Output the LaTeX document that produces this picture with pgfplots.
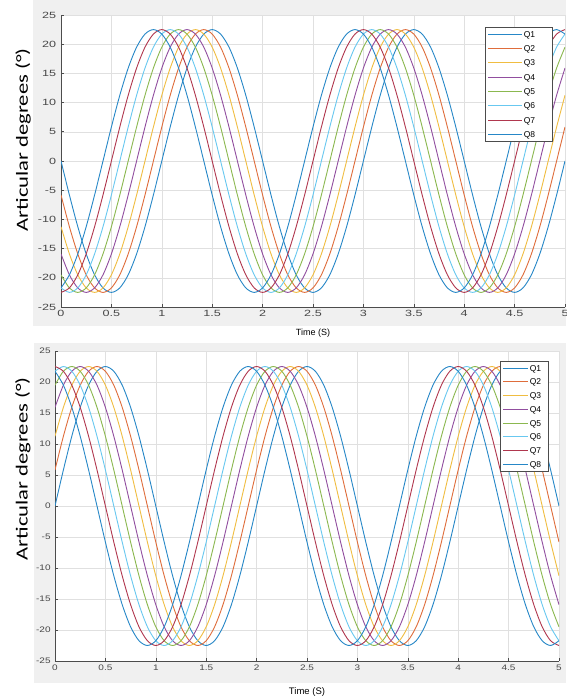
\documentclass[border=0pt]{standalone}
\usepackage{pgfplots}
\pgfplotsset{compat=1.18}
\usepackage{pgfplotstable}
\usepackage{fontspec}
\setmainfont{Liberation Sans}
\newfontfamily\labelfont{Carlito}

\definecolor{c1}{rgb}{0.00,0.447,0.741}
\definecolor{c2}{rgb}{0.85,0.325,0.098}
\definecolor{c3}{rgb}{0.929,0.694,0.125}
\definecolor{c4}{rgb}{0.494,0.184,0.556}
\definecolor{c5}{rgb}{0.466,0.674,0.188}
\definecolor{c6}{rgb}{0.301,0.745,0.933}
\definecolor{c7}{rgb}{0.635,0.078,0.184}

% top chart: joint angles (deg) vs time (s)
\pgfplotstableread{
t q1 q2 q3 q4 q5 q6 q7 q8
0 0 -5.82 -11.25 -15.91 -19.49 -21.73 -22.5 -21.73
0.0833 -5.82 -11.25 -15.91 -19.49 -21.73 -22.5 -21.73 -19.49
0.1667 -11.25 -15.91 -19.49 -21.73 -22.5 -21.73 -19.49 -15.91
0.25 -15.91 -19.49 -21.73 -22.5 -21.73 -19.49 -15.91 -11.25
0.3333 -19.49 -21.73 -22.5 -21.73 -19.49 -15.91 -11.25 -5.82
0.4167 -21.73 -22.5 -21.73 -19.49 -15.91 -11.25 -5.82 0
0.5 -22.5 -21.73 -19.49 -15.91 -11.25 -5.82 0 5.82
0.5833 -21.73 -19.49 -15.91 -11.25 -5.82 0 5.82 11.25
0.6667 -19.49 -15.91 -11.25 -5.82 0 5.82 11.25 15.91
0.75 -15.91 -11.25 -5.82 0 5.82 11.25 15.91 19.49
0.8333 -11.25 -5.82 0 5.82 11.25 15.91 19.49 21.73
0.9167 -5.82 0 5.82 11.25 15.91 19.49 21.73 22.5
1 0 5.82 11.25 15.91 19.49 21.73 22.5 21.73
1.0833 5.82 11.25 15.91 19.49 21.73 22.5 21.73 19.49
1.1667 11.25 15.91 19.49 21.73 22.5 21.73 19.49 15.91
1.25 15.91 19.49 21.73 22.5 21.73 19.49 15.91 11.25
1.3333 19.49 21.73 22.5 21.73 19.49 15.91 11.25 5.82
1.4167 21.73 22.5 21.73 19.49 15.91 11.25 5.82 0
1.5 22.5 21.73 19.49 15.91 11.25 5.82 0 -5.82
1.5833 21.73 19.49 15.91 11.25 5.82 0 -5.82 -11.25
1.6667 19.49 15.91 11.25 5.82 0 -5.82 -11.25 -15.91
1.75 15.91 11.25 5.82 0 -5.82 -11.25 -15.91 -19.49
1.8333 11.25 5.82 0 -5.82 -11.25 -15.91 -19.49 -21.73
1.9167 5.82 0 -5.82 -11.25 -15.91 -19.49 -21.73 -22.5
2 0 -5.82 -11.25 -15.91 -19.49 -21.73 -22.5 -21.73
2.0833 -5.82 -11.25 -15.91 -19.49 -21.73 -22.5 -21.73 -19.49
2.1667 -11.25 -15.91 -19.49 -21.73 -22.5 -21.73 -19.49 -15.91
2.25 -15.91 -19.49 -21.73 -22.5 -21.73 -19.49 -15.91 -11.25
2.3333 -19.49 -21.73 -22.5 -21.73 -19.49 -15.91 -11.25 -5.82
2.4167 -21.73 -22.5 -21.73 -19.49 -15.91 -11.25 -5.82 0
2.5 -22.5 -21.73 -19.49 -15.91 -11.25 -5.82 0 5.82
2.5833 -21.73 -19.49 -15.91 -11.25 -5.82 0 5.82 11.25
2.6667 -19.49 -15.91 -11.25 -5.82 0 5.82 11.25 15.91
2.75 -15.91 -11.25 -5.82 0 5.82 11.25 15.91 19.49
2.8333 -11.25 -5.82 0 5.82 11.25 15.91 19.49 21.73
2.9167 -5.82 0 5.82 11.25 15.91 19.49 21.73 22.5
3 0 5.82 11.25 15.91 19.49 21.73 22.5 21.73
3.0833 5.82 11.25 15.91 19.49 21.73 22.5 21.73 19.49
3.1667 11.25 15.91 19.49 21.73 22.5 21.73 19.49 15.91
3.25 15.91 19.49 21.73 22.5 21.73 19.49 15.91 11.25
3.3333 19.49 21.73 22.5 21.73 19.49 15.91 11.25 5.82
3.4167 21.73 22.5 21.73 19.49 15.91 11.25 5.82 0
3.5 22.5 21.73 19.49 15.91 11.25 5.82 0 -5.82
3.5833 21.73 19.49 15.91 11.25 5.82 0 -5.82 -11.25
3.6667 19.49 15.91 11.25 5.82 0 -5.82 -11.25 -15.91
3.75 15.91 11.25 5.82 0 -5.82 -11.25 -15.91 -19.49
3.8333 11.25 5.82 0 -5.82 -11.25 -15.91 -19.49 -21.73
3.9167 5.82 0 -5.82 -11.25 -15.91 -19.49 -21.73 -22.5
4 0 -5.82 -11.25 -15.91 -19.49 -21.73 -22.5 -21.73
4.0833 -5.82 -11.25 -15.91 -19.49 -21.73 -22.5 -21.73 -19.49
4.1667 -11.25 -15.91 -19.49 -21.73 -22.5 -21.73 -19.49 -15.91
4.25 -15.91 -19.49 -21.73 -22.5 -21.73 -19.49 -15.91 -11.25
4.3333 -19.49 -21.73 -22.5 -21.73 -19.49 -15.91 -11.25 -5.82
4.4167 -21.73 -22.5 -21.73 -19.49 -15.91 -11.25 -5.82 0
4.5 -22.5 -21.73 -19.49 -15.91 -11.25 -5.82 0 5.82
4.5833 -21.73 -19.49 -15.91 -11.25 -5.82 0 5.82 11.25
4.6667 -19.49 -15.91 -11.25 -5.82 0 5.82 11.25 15.91
4.75 -15.91 -11.25 -5.82 0 5.82 11.25 15.91 19.49
4.8333 -11.25 -5.82 0 5.82 11.25 15.91 19.49 21.73
4.9167 -5.82 0 5.82 11.25 15.91 19.49 21.73 22.5
5 0 5.82 11.25 15.91 19.49 21.73 22.5 21.73
}\topdata

% bottom chart
\pgfplotstableread{
t q1 q2 q3 q4 q5 q6 q7 q8
0 0 5.82 11.25 15.91 19.49 21.73 22.5 21.73
0.0833 5.82 11.25 15.91 19.49 21.73 22.5 21.73 19.49
0.1667 11.25 15.91 19.49 21.73 22.5 21.73 19.49 15.91
0.25 15.91 19.49 21.73 22.5 21.73 19.49 15.91 11.25
0.3333 19.49 21.73 22.5 21.73 19.49 15.91 11.25 5.82
0.4167 21.73 22.5 21.73 19.49 15.91 11.25 5.82 0
0.5 22.5 21.73 19.49 15.91 11.25 5.82 0 -5.82
0.5833 21.73 19.49 15.91 11.25 5.82 0 -5.82 -11.25
0.6667 19.49 15.91 11.25 5.82 0 -5.82 -11.25 -15.91
0.75 15.91 11.25 5.82 0 -5.82 -11.25 -15.91 -19.49
0.8333 11.25 5.82 0 -5.82 -11.25 -15.91 -19.49 -21.73
0.9167 5.82 0 -5.82 -11.25 -15.91 -19.49 -21.73 -22.5
1 0 -5.82 -11.25 -15.91 -19.49 -21.73 -22.5 -21.73
1.0833 -5.82 -11.25 -15.91 -19.49 -21.73 -22.5 -21.73 -19.49
1.1667 -11.25 -15.91 -19.49 -21.73 -22.5 -21.73 -19.49 -15.91
1.25 -15.91 -19.49 -21.73 -22.5 -21.73 -19.49 -15.91 -11.25
1.3333 -19.49 -21.73 -22.5 -21.73 -19.49 -15.91 -11.25 -5.82
1.4167 -21.73 -22.5 -21.73 -19.49 -15.91 -11.25 -5.82 0
1.5 -22.5 -21.73 -19.49 -15.91 -11.25 -5.82 0 5.82
1.5833 -21.73 -19.49 -15.91 -11.25 -5.82 0 5.82 11.25
1.6667 -19.49 -15.91 -11.25 -5.82 0 5.82 11.25 15.91
1.75 -15.91 -11.25 -5.82 0 5.82 11.25 15.91 19.49
1.8333 -11.25 -5.82 0 5.82 11.25 15.91 19.49 21.73
1.9167 -5.82 0 5.82 11.25 15.91 19.49 21.73 22.5
2 0 5.82 11.25 15.91 19.49 21.73 22.5 21.73
2.0833 5.82 11.25 15.91 19.49 21.73 22.5 21.73 19.49
2.1667 11.25 15.91 19.49 21.73 22.5 21.73 19.49 15.91
2.25 15.91 19.49 21.73 22.5 21.73 19.49 15.91 11.25
2.3333 19.49 21.73 22.5 21.73 19.49 15.91 11.25 5.82
2.4167 21.73 22.5 21.73 19.49 15.91 11.25 5.82 0
2.5 22.5 21.73 19.49 15.91 11.25 5.82 0 -5.82
2.5833 21.73 19.49 15.91 11.25 5.82 0 -5.82 -11.25
2.6667 19.49 15.91 11.25 5.82 0 -5.82 -11.25 -15.91
2.75 15.91 11.25 5.82 0 -5.82 -11.25 -15.91 -19.49
2.8333 11.25 5.82 0 -5.82 -11.25 -15.91 -19.49 -21.73
2.9167 5.82 0 -5.82 -11.25 -15.91 -19.49 -21.73 -22.5
3 0 -5.82 -11.25 -15.91 -19.49 -21.73 -22.5 -21.73
3.0833 -5.82 -11.25 -15.91 -19.49 -21.73 -22.5 -21.73 -19.49
3.1667 -11.25 -15.91 -19.49 -21.73 -22.5 -21.73 -19.49 -15.91
3.25 -15.91 -19.49 -21.73 -22.5 -21.73 -19.49 -15.91 -11.25
3.3333 -19.49 -21.73 -22.5 -21.73 -19.49 -15.91 -11.25 -5.82
3.4167 -21.73 -22.5 -21.73 -19.49 -15.91 -11.25 -5.82 0
3.5 -22.5 -21.73 -19.49 -15.91 -11.25 -5.82 0 5.82
3.5833 -21.73 -19.49 -15.91 -11.25 -5.82 0 5.82 11.25
3.6667 -19.49 -15.91 -11.25 -5.82 0 5.82 11.25 15.91
3.75 -15.91 -11.25 -5.82 0 5.82 11.25 15.91 19.49
3.8333 -11.25 -5.82 0 5.82 11.25 15.91 19.49 21.73
3.9167 -5.82 0 5.82 11.25 15.91 19.49 21.73 22.5
4 0 5.82 11.25 15.91 19.49 21.73 22.5 21.73
4.0833 5.82 11.25 15.91 19.49 21.73 22.5 21.73 19.49
4.1667 11.25 15.91 19.49 21.73 22.5 21.73 19.49 15.91
4.25 15.91 19.49 21.73 22.5 21.73 19.49 15.91 11.25
4.3333 19.49 21.73 22.5 21.73 19.49 15.91 11.25 5.82
4.4167 21.73 22.5 21.73 19.49 15.91 11.25 5.82 0
4.5 22.5 21.73 19.49 15.91 11.25 5.82 0 -5.82
4.5833 21.73 19.49 15.91 11.25 5.82 0 -5.82 -11.25
4.6667 19.49 15.91 11.25 5.82 0 -5.82 -11.25 -15.91
4.75 15.91 11.25 5.82 0 -5.82 -11.25 -15.91 -19.49
4.8333 11.25 5.82 0 -5.82 -11.25 -15.91 -19.49 -21.73
4.9167 5.82 0 -5.82 -11.25 -15.91 -19.49 -21.73 -22.5
5 0 -5.82 -11.25 -15.91 -19.49 -21.73 -22.5 -21.73
}\bottomdata

\pgfplotsset{
  qplot/.style={
    scale only axis,
    xmin=0, xmax=5, ymin=-25, ymax=25,
    xtick={0,0.5,1,1.5,2,2.5,3,3.5,4,4.5,5},
    ytick={-25,-20,-15,-10,-5,0,5,10,15,20,25},
    axis x line=bottom, axis y line=left,
    axis line style={-, draw=black!70, line width=0.6pt},
    grid=major, major grid style={draw=black!12, line width=0.5pt},
    tick align=inside, major tick length=3pt,
    tick style={draw=black!70, line width=0.6pt},
    tick label style={text=black!72},
    /pgf/number format/assume math mode=true,
    axis background/.style={fill=white},
    no markers,
    every axis plot/.append style={line width=0.9pt, smooth},
    cycle list={{c1!85!white},{c2!85!white},{c3!85!white},{c4!85!white},
                {c5!85!white},{c6!85!white},{c7!85!white},{c1!85!white}},
    legend cell align=left,
    ylabel={\labelfont\fontsize{17}{17}\selectfont\scalebox{1.33}[1]{Articular degrees (°)}},
    xlabel={Time (S)},
  },
}
\newcommand\qe[2]{#1\hspace*{#2}}

\begin{document}
\begin{tikzpicture}
\useasboundingbox (0,0) rectangle (566pt,698pt);
\fill[black!6] (33pt,372pt) rectangle (566pt,698pt);
\fill[black!6] (34pt,15pt) rectangle (566pt,355pt);

\begin{axis}[qplot,
  at={(61pt,391pt)}, anchor=south west, width=504pt, height=292pt,
  tick label style={font=\fontsize{9}{10}\selectfont, xscale=1.4},
  xlabel style={at={(axis description cs:0.5,-0.089)}, anchor=center, font=\fontsize{9}{10}\selectfont},
  ylabel style={at={(axis description cs:-0.075,0.572)}, anchor=center, rotate=0},
  legend image code/.code={\draw[#1, line width=0.9pt] (0pt,0pt) -- (34pt,0pt);},
  legend style={at={(axis description cs:0.976,0.959)}, anchor=north east,
    draw, color=black!70, text=black, line width=0.6pt, fill=white, inner sep=2.5pt,
    font=\fontsize{8.5}{9}\selectfont, row sep=5.3pt,
    nodes={inner sep=1pt, text height=6.5pt, text depth=0.5pt}},
]
\addplot table[x=t, y=q1] {\topdata};
\addplot table[x=t, y=q2] {\topdata};
\addplot table[x=t, y=q3] {\topdata};
\addplot table[x=t, y=q4] {\topdata};
\addplot table[x=t, y=q5] {\topdata};
\addplot table[x=t, y=q6] {\topdata};
\addplot table[x=t, y=q7] {\topdata};
\addplot table[x=t, y=q8] {\topdata};
\legend{\qe{Q1}{14pt},\qe{Q2}{14pt},\qe{Q3}{14pt},\qe{Q4}{14pt},\qe{Q5}{14pt},\qe{Q6}{14pt},\qe{Q7}{14pt},\qe{Q8}{14pt}}
\end{axis}

\begin{axis}[qplot,
  at={(55pt,37pt)}, anchor=south west, width=504pt, height=310pt,
  tick label style={font=\fontsize{8}{9}\selectfont, xscale=1.25},
  xlabel style={at={(axis description cs:0.5,-0.1)}, anchor=center, font=\fontsize{9.5}{10}\selectfont},
  ylabel style={at={(axis description cs:-0.0635,0.62)}, anchor=center, rotate=0},
  legend image code/.code={\draw[#1, line width=0.9pt] (0pt,0pt) -- (25pt,0pt);},
  legend style={at={(axis description cs:0.98,0.968)}, anchor=north east,
    draw, color=black!70, text=black, line width=0.6pt, fill=white, inner sep=2.5pt,
    font=\fontsize{8.5}{9}\selectfont, row sep=4.7pt,
    nodes={inner sep=1pt, text height=6.5pt, text depth=0.5pt}},
]
\addplot table[x=t, y=q1] {\bottomdata};
\addplot table[x=t, y=q2] {\bottomdata};
\addplot table[x=t, y=q3] {\bottomdata};
\addplot table[x=t, y=q4] {\bottomdata};
\addplot table[x=t, y=q5] {\bottomdata};
\addplot table[x=t, y=q6] {\bottomdata};
\addplot table[x=t, y=q7] {\bottomdata};
\addplot table[x=t, y=q8] {\bottomdata};
\legend{\qe{Q1}{4pt},\qe{Q2}{4pt},\qe{Q3}{4pt},\qe{Q4}{4pt},\qe{Q5}{4pt},\qe{Q6}{4pt},\qe{Q7}{4pt},\qe{Q8}{4pt}}
\end{axis}
\end{tikzpicture}
\end{document}
